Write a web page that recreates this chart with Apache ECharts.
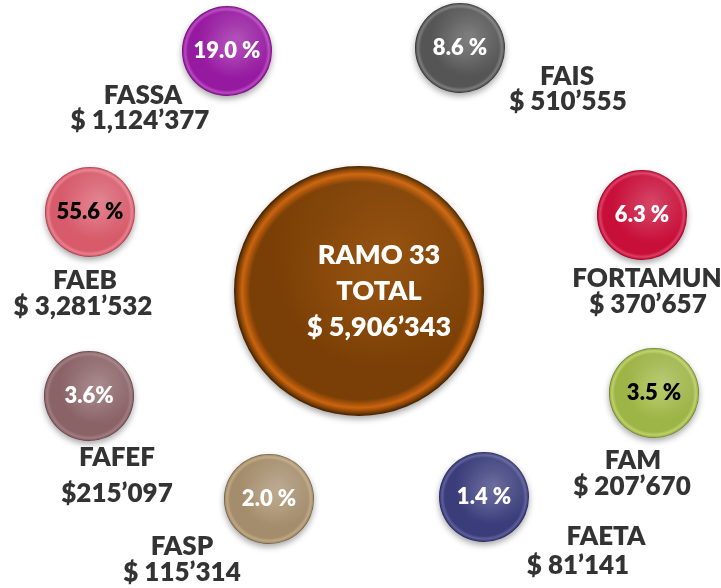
<!DOCTYPE html>
<html>
<head>
<meta charset="utf-8">
<script src="https://cdn.jsdelivr.net/npm/echarts@6/dist/echarts.min.js"></script>
<style>
  html, body { margin: 0; padding: 0; background: #ffffff; }
  #chart { width: 721px; height: 588px; }
</style>
</head>
<body>
<div id="chart"></div>
<script>
// Ramo 33: reparto del total entre sus fondos
const funds   = ['FASSA', 'FAIS', 'FORTAMUN', 'FAM', 'FAETA', 'FASP', 'FAFEF', 'FAEB'];
const amounts = [1124377, 510555, 370657, 207670, 81141, 115314, 215097, 3281532];
const shares  = [19.0, 8.6, 6.3, 3.5, 1.4, 2.0, 3.6, 55.6];
const totalTitle  = ['RAMO 33', 'TOTAL'];
const totalAmount = 5906343;

// Layout (axis units = canvas pixels): bubble centres and caption anchors
const bubbleAt = [[227, 51], [460, 48], [642, 215], [654, 393], [484, 497], [269, 499], [89, 396], [90, 212]];
const nameAt   = [[143, 96], [567, 77], [647, 279], [633, 461], [606, 537], [182, 547], [117, 458], [85, 281]];
const amountAt = [[140, 121], [568, 102], [648, 305], [632, 487], [578, 566], [182, 573], [117, 494], [83, 307]];
const centreAt = [359, 291];

// Styles
const tones = [
  { light: '#a42aae', base: '#961aa0', rim: '#b84cc0', edge: '#5e0a66', text: '#ffffff' },
  { light: '#626262', base: '#555555', rim: '#7c7c7c', edge: '#262626', text: '#ffffff' },
  { light: '#cc1842', base: '#c80f3a', rim: '#dc4064', edge: '#86001e', text: '#ffffff' },
  { light: '#aac24e', base: '#9db446', rim: '#bcd26a', edge: '#5e6c22', text: '#000000' },
  { light: '#4a4c8a', base: '#3b3d7b', rim: '#5e609a', edge: '#1e2050', text: '#ffffff' },
  { light: '#b09876', base: '#a48d6c', rim: '#c0a882', edge: '#5e4e36', text: '#ffffff' },
  { light: '#967074', base: '#8a6367', rim: '#a07c80', edge: '#4e3437', text: '#ffffff' },
  { light: '#de6877', base: '#d75b6b', rim: '#e88290', edge: '#983040', text: '#000000' }
];
const centreTone = { light: '#864608', base: '#7a3f06', rim: '#cc640e', edge: '#3e1e00' };
const compact = [false, false, false, false, false, false, true, false];
const FONT = 'Lato';
const WEIGHT = 800;

function money(n) {
  const s = String(n);
  const groups = [];
  for (let i = s.length; i > 0; i -= 3) groups.unshift(s.slice(Math.max(0, i - 3), i));
  let out = groups[0];
  for (let g = 1; g < groups.length; g++) out += (g === groups.length - 1 ? '\u2019' : ',') + groups[g];
  return out;
}

function bodyFill(t) {
  return {
    type: 'radial', x: 0.5, y: 0.5, r: 0.5,
    colorStops: [
      { offset: 0, color: t.light },
      { offset: 0.6, color: t.base },
      { offset: 0.87, color: t.base },
      { offset: 0.935, color: t.rim },
      { offset: 0.975, color: t.base },
      { offset: 1, color: t.edge }
    ]
  };
}
function glossFill() {
  return {
    type: 'radial', x: 0.62, y: 0.36, r: 0.45,
    colorStops: [
      { offset: 0, color: 'rgba(255,255,255,0.22)' },
      { offset: 1, color: 'rgba(255,255,255,0)' }
    ]
  };
}

const bubbleData = funds.map((f, i) => ({
  name: f,
  value: [bubbleAt[i][0], bubbleAt[i][1], shares[i]],
  symbolSize: 90,
  itemStyle: { color: bodyFill(tones[i]) }
}));
bubbleData.push({
  name: 'TOTAL',
  value: [centreAt[0], centreAt[1], totalAmount],
  symbolSize: 250,
  itemStyle: { color: bodyFill(centreTone) }
});

const glossData = funds.map((f, i) => ({
  name: f,
  value: [bubbleAt[i][0], bubbleAt[i][1], shares[i]],
  symbolSize: 90,
  label: {
    show: true, position: 'inside',
    formatter: shares[i].toFixed(1) + (compact[i] ? '%' : ' %'),
    color: tones[i].text, fontFamily: FONT, fontWeight: WEIGHT, fontSize: 22
  }
}));
glossData.push({
  name: 'TOTAL',
  value: [centreAt[0], centreAt[1], totalAmount],
  symbolSize: 250,
  itemStyle: { color: {
    type: 'radial', x: 0.64, y: 0.32, r: 0.5,
    colorStops: [
      { offset: 0, color: 'rgba(255,160,60,0.18)' },
      { offset: 1, color: 'rgba(255,160,60,0)' }
    ]
  } },
  label: {
    show: true, position: 'inside', offset: [20, 0],
    formatter: totalTitle.join('\n') + '\n$ ' + money(totalAmount),
    color: '#ffffff', fontFamily: FONT, fontWeight: WEIGHT, fontSize: 27, lineHeight: 36, align: 'center'
  }
});

const captionStyle = { show: true, position: 'inside', color: '#000000', fontFamily: FONT, fontWeight: WEIGHT, fontSize: 26 };

const option = {
  animation: false,
  backgroundColor: '#ffffff',
  grid: { left: 0, right: 0, top: 0, bottom: 0 },
  xAxis: { type: 'value', min: 0, max: 721, show: false },
  yAxis: { type: 'value', min: 0, max: 588, inverse: true, show: false },
  series: [
    {
      type: 'scatter', symbol: 'circle', data: bubbleData, silent: true, z: 2,
      itemStyle: { shadowBlur: 6, shadowColor: 'rgba(0,0,0,0.35)', shadowOffsetY: 3, opacity: 1 }
    },
    {
      type: 'scatter', symbol: 'circle', data: glossData, silent: true, z: 3,
      itemStyle: { color: glossFill(), opacity: 1 }
    },
    {
      type: 'scatter', symbolSize: 0, silent: true, z: 4,
      data: funds.map((f, i) => ({ name: f, value: nameAt[i] })),
      label: Object.assign({ formatter: p => p.name }, captionStyle)
    },
    {
      type: 'scatter', symbolSize: 0, silent: true, z: 4,
      data: funds.map((f, i) => ({ name: f, value: [amountAt[i][0], amountAt[i][1], amounts[i]] })),
      label: Object.assign({
        formatter: p => (compact[p.dataIndex] ? '$' : '$ ') + money(p.value[2])
      }, captionStyle)
    }
  ]
};

const chart = echarts.init(document.getElementById('chart'), null, { renderer: 'canvas' });
chart.setOption(option);
</script>
</body>
</html>
